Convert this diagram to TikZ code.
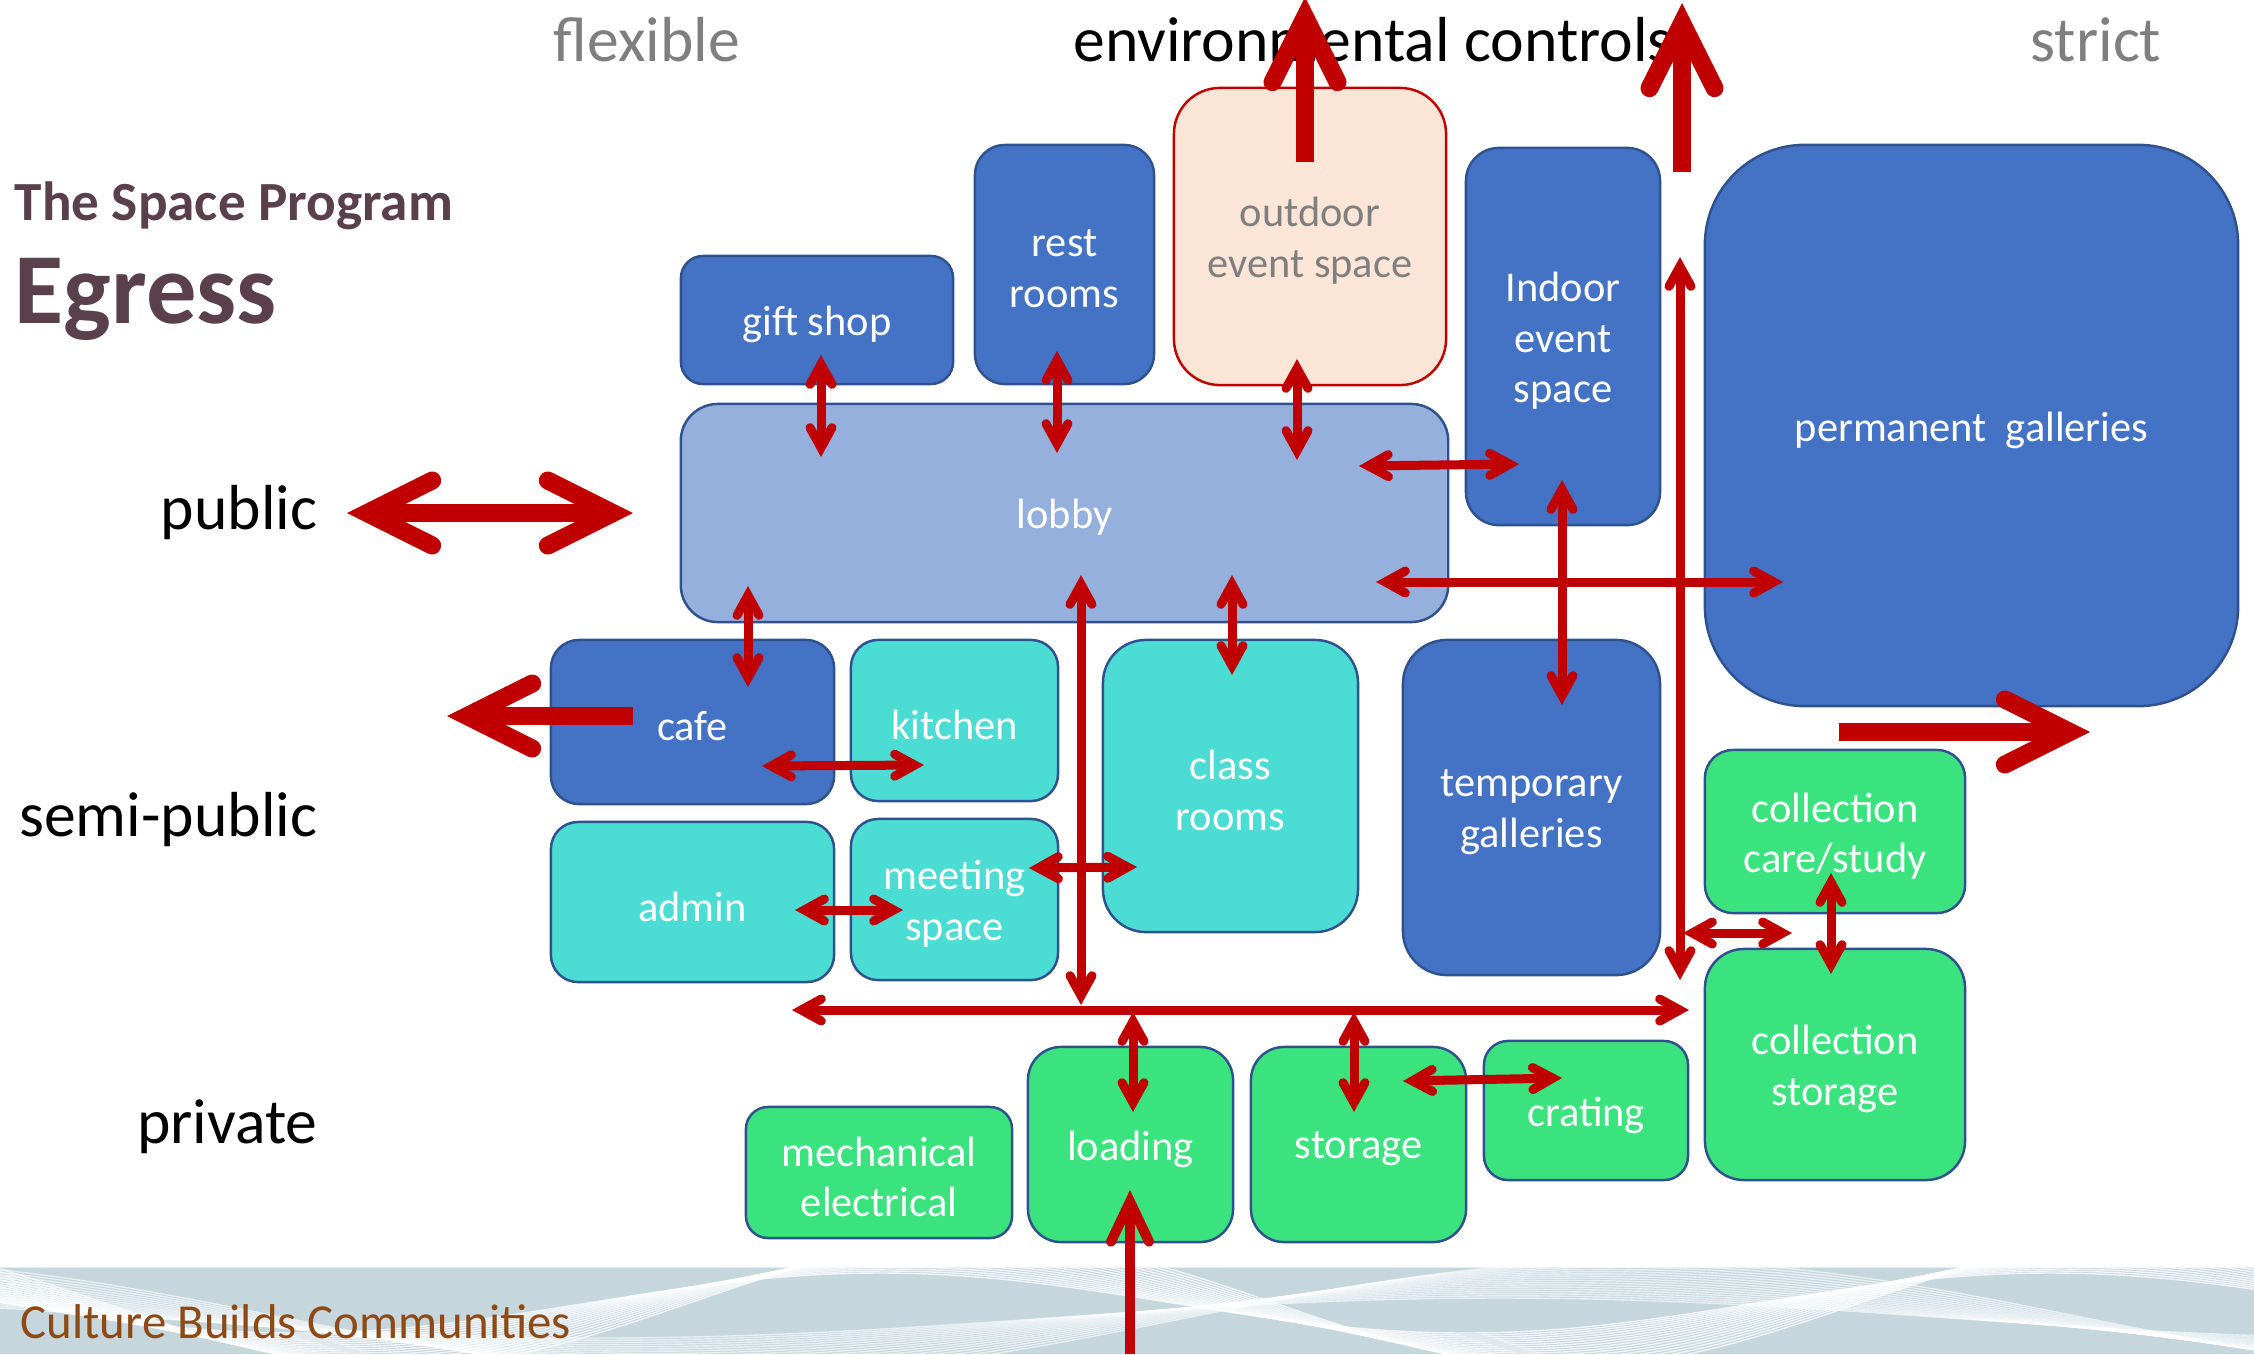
\documentclass[tikz,border=0pt]{standalone}
\usepackage{fontspec}
\setmainfont{Carlito}
\usetikzlibrary{arrows.meta}
\definecolor{dblue}{HTML}{4472C4}
\definecolor{bord}{HTML}{2F528F}
\definecolor{lblue}{HTML}{95B0DC}
\definecolor{cyanb}{HTML}{4BDCD3}
\definecolor{greenb}{HTML}{3BE37E}
\definecolor{peach}{HTML}{FBE5D6}
\definecolor{arrred}{HTML}{C00000}
\definecolor{titlec}{HTML}{59404A}
\definecolor{bandc}{HTML}{C5D6DC}
\definecolor{brownc}{HTML}{8E4A16}
\definecolor{grayt}{HTML}{7F7F7F}
\begin{document}
\begin{tikzpicture}[x=0.01cm,y=-0.01cm,
  room/.style={draw=bord, line width=0.7pt, inner sep=0pt, rectangle},
  rtxt/.style={text=white, align=center, inner sep=0pt, yshift=-0.045cm,
    font=\fontsize{12.06}{14.4}\selectfont},
  gtxt/.style={rtxt, text=grayt},
  darkroom/.style={room, fill=dblue},
  cyanroom/.style={room, fill=cyanb},
  greenroom/.style={room, fill=greenb},
  sz/.style n args={2}{minimum width=#1, minimum height=#2},
  headlbl/.style={font=\fontsize{18.1}{21}\selectfont, inner sep=0pt},
  smallarr/.style={draw=arrred, line width=0.09cm,
    >={Straight Barb[length=0.2cm,width=0.22cm,line cap=round,line join=miter]}},
  medarr/.style={draw=arrred, line width=0.1cm,
    >={Straight Barb[length=0.4cm,width=0.38cm,line cap=round,line join=miter]}},
  bigarr/.style={draw=arrred, line width=0.18cm,
    >={Straight Barb[length=0.65cm,width=0.65cm,line cap=round,line join=miter]}}
]
\useasboundingbox (0,0) rectangle (2254,1354);
\fill[white] (0,0) rectangle (2254,1354);

% bottom band
\fill[bandc] (0,1267) rectangle (2254,1354);
\draw[white, line width=0.8pt, opacity=0.6] (0,1267) -- (2254,1267);
\begin{scope}
  \clip (0,1267) rectangle (2254,1354);
  \foreach \i in {0,...,17} {
    \draw[white, line width=0.4pt, opacity=0.75]
      plot[domain=0:2254, samples=90, smooth] (\x, {1303 - (30+2*\i)*cos((\x-880-6*\i)*0.3077)});
  }
  \foreach \i in {0,...,17} {
    \draw[white, line width=0.4pt, opacity=0.6]
      plot[domain=0:2254, samples=90, smooth] (\x, {1318 + (20+2.2*\i)*sin((\x-150-8*\i)*0.2)});
  }
\end{scope}
\node[anchor=base west, text=brownc, inner sep=0pt, font=\fontsize{13.9}{16}\selectfont] (cbc) at (20,1338) {Culture Builds Communities};

% titles
\node[anchor=base west, text=titlec, inner sep=0pt, font=\fontsize{15.7}{18}\selectfont\bfseries] (tsp) at (14,220) {The Space Program};
\node[anchor=base west, text=titlec, inner sep=0pt, font=\fontsize{28.6}{32}\selectfont\bfseries] (egr) at (14,323) {Egress};

% header labels
\node[headlbl, text=grayt] (flex) at (647,40) {flexible};
\node[headlbl, text=black] (env) at (1373,40) {environmental controls};
\node[headlbl, text=grayt] (strict) at (2096,40) {strict};
\node[headlbl, anchor=base east] (pub) at (318,529) {public};
\node[headlbl, anchor=base east] (semi) at (318,836) {semi-public};
\node[headlbl, anchor=base east] (priv) at (318,1143) {private};

% rooms
\node[darkroom, rounded corners=0.22cm, sz={2.72cm}{1.28cm}, label={[rtxt]center:{gift shop}}] (gift) at (817,320) {};
\node[darkroom, rounded corners=0.30cm, sz={1.79cm}{2.39cm}, label={[rtxt]center:{rest\\rooms}}] (rest) at (1064.5,264.5) {};
\node[room, fill=peach, draw=arrred, rounded corners=0.46cm, sz={2.72cm}{2.97cm}, label={[gtxt]center:{outdoor\\event space}}] (outdoor) at (1310,236.5) {};
\node[darkroom, rounded corners=0.33cm, sz={1.94cm}{3.77cm}, label={[rtxt]center:{Indoor\\event\\space}}] (indoor) at (1563,336.5) {};
\node[darkroom, rounded corners=1.0cm, sz={5.33cm}{5.61cm}, label={[rtxt]center:{permanent\ \ galleries}}] (perm) at (1971.5,425.5) {};
\node[room, fill=lblue, rounded corners=0.37cm, sz={7.67cm}{2.18cm}, label={[rtxt]center:{lobby}}] (lobby) at (1064.5,513) {};
\node[darkroom, rounded corners=0.28cm, sz={2.83cm}{1.64cm}, label={[rtxt]center:{cafe}}] (cafe) at (692.5,722) {};
\node[cyanroom, rounded corners=0.27cm, sz={2.07cm}{1.61cm}, label={[rtxt]center:{kitchen}}] (kitchen) at (954.5,720.5) {};
\node[cyanroom, rounded corners=0.43cm, sz={2.55cm}{2.92cm}, label={[rtxt]center:{class\\rooms}}] (class) at (1230.5,786) {};
\node[darkroom, rounded corners=0.44cm, sz={2.57cm}{3.35cm}, label={[rtxt]center:{temporary\\galleries}}] (temp) at (1531.5,807.5) {};
\node[cyanroom, rounded corners=0.27cm, sz={2.83cm}{1.60cm}, label={[rtxt]center:{admin}}] (admin) at (692.5,902) {};
\node[cyanroom, rounded corners=0.27cm, sz={2.07cm}{1.61cm}, label={[rtxt]center:{meeting\\space}}] (meet) at (954.5,899.5) {};
\node[greenroom, rounded corners=0.28cm, sz={2.60cm}{1.63cm}, label={[rtxt]center:{collection\\care/study}}] (ccare) at (1835,831.5) {};
\node[greenroom, rounded corners=0.39cm, sz={2.60cm}{2.31cm}, label={[rtxt]center:{collection\\storage}}] (cstor) at (1835,1064.5) {};
\node[greenroom, rounded corners=0.22cm, sz={2.66cm}{1.31cm}, label={[rtxt]center:{mechanical\\electrical}}] (mech) at (879,1172.5) {};
\node[greenroom, rounded corners=0.33cm, sz={2.05cm}{1.95cm}, label={[rtxt]center:{loading}}] (load) at (1130.5,1144.5) {};
\node[greenroom, rounded corners=0.33cm, sz={2.15cm}{1.95cm}, label={[rtxt]center:{storage}}] (stor) at (1358.5,1144.5) {};
\node[greenroom, rounded corners=0.24cm, sz={2.04cm}{1.39cm}, label={[rtxt]center:{crating}}] (crate) at (1586,1110.5) {};

% connector end points
\coordinate (ta1) at (821,355);  \coordinate (ta2) at (821,457);
\coordinate (tb1) at (1057,351); \coordinate (tb2) at (1057,453);
\coordinate (tc1) at (1297,359); \coordinate (tc2) at (1297,460);
\coordinate (td1) at (1359,466); \coordinate (td2) at (1519,464);
\coordinate (te1) at (1562,480); \coordinate (te2) at (1562,705);
\coordinate (tf1) at (1376,582); \coordinate (tf2) at (1783,582);
\coordinate (tg1) at (1680,257); \coordinate (tg2) at (1680,980);
\coordinate (th1) at (748,586);  \coordinate (th2) at (748,687);
\coordinate (ti1) at (762,766);  \coordinate (ti2) at (924,765);
\coordinate (tj1) at (1232,575); \coordinate (tj2) at (1232,675);
\coordinate (tk1) at (1081,575); \coordinate (tk2) at (1081,1005);
\coordinate (tl1) at (1029,868); \coordinate (tl2) at (1137,867);
\coordinate (tm1) at (795,910);  \coordinate (tm2) at (903,910);
\coordinate (tn1) at (792,1010); \coordinate (tn2) at (1689,1010);
\coordinate (to1) at (1133,1012); \coordinate (to2) at (1133,1112);
\coordinate (tp1) at (1354,1012); \coordinate (tp2) at (1354,1112);
\coordinate (tq1) at (1403,1081); \coordinate (tq2) at (1562,1078);
\coordinate (tr1) at (1683,933); \coordinate (tr2) at (1792,933);
\coordinate (ts1) at (1831,873); \coordinate (ts2) at (1831,974);

\foreach \c in {ta,tb,tc,td,te,tf,tg,th,ti,tj,tk,tl,tm,tn,to,tp,tq,tr,ts}
  \draw[smallarr,<->] (\c1) -- (\c2);

% big arrows
\coordinate (P1) at (347,513);  \coordinate (P2) at (633,513);
\coordinate (U1) at (1305,162); \coordinate (U2) at (1305,-3);
\coordinate (V1) at (1682,172); \coordinate (V2) at (1682,3);
\coordinate (R1) at (1839,732); \coordinate (R2) at (2090,732);
\coordinate (L1) at (633,716);  \coordinate (L2) at (447,716);
\coordinate (M1) at (1130,1354); \coordinate (M2) at (1130,1190);
\draw[bigarr,<->] (P1) -- (P2);
\draw[bigarr,->] (U1) -- (U2);
\draw[bigarr,->] (V1) -- (V2);
\draw[bigarr,->] (R1) -- (R2);
\draw[bigarr,->] (L1) -- (L2);
\draw[medarr,->] (M1) -- (M2);
\end{tikzpicture}
\end{document}
